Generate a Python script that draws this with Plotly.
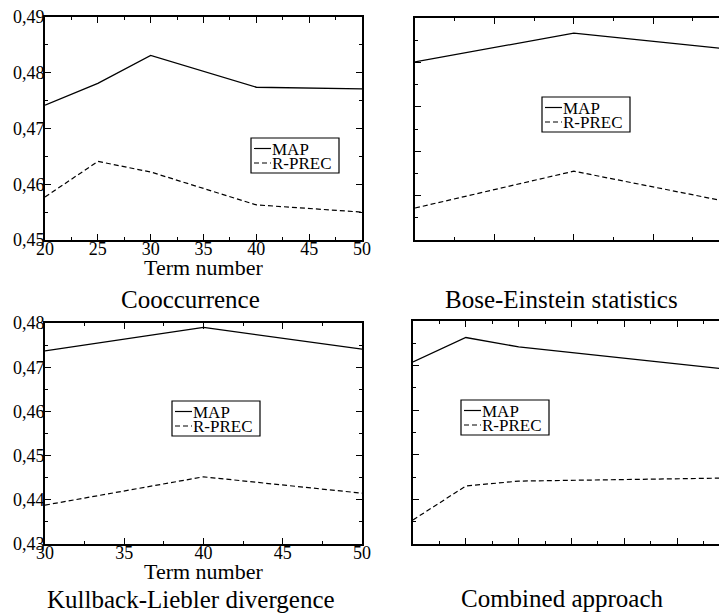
import plotly.graph_objects as go

W, H = 727, 613
OFF = 8  # the page body adds an 8px margin; positions below are in window pixels

# ---------------- data ----------------
terms_cooc = [20, 25, 30, 40, 50]
map_cooc = [0.4742, 0.4781, 0.4831, 0.4774, 0.4771]
rprec_cooc = [0.4577, 0.4641, 0.4622, 0.4563, 0.4550]

terms_be = [30, 40, 50]
map_be = [0.4801, 0.4866, 0.4829]
rprec_be = [0.4472, 0.4555, 0.4484]

terms_kl = [30, 40, 50]
map_kl = [0.4737, 0.4790, 0.4741]
rprec_kl = [0.4388, 0.4452, 0.4415]

terms_comb = [20, 25, 30, 40, 50]
map_comb = [0.4708, 0.4763, 0.4742, 0.4716, 0.4691]
rprec_comb = [0.4354, 0.4430, 0.4441, 0.4445, 0.4448]

panel_titles = ["Cooccurrence", "Bose-Einstein statistics",
                "Kullback-Liebler divergence", "Combined approach"]
series_names = ["MAP", "R-PREC"]
x_title = "Term number"

FONT = "Liberation Serif, Times New Roman, serif"

def px(x):
    return (x - OFF) / W

def py(y):
    return 1 - (y - OFF) / H

fig = go.Figure()

panels = [
    ("", terms_cooc, map_cooc, rprec_cooc, (45, 362), (17, 240), [20, 50], [0.45, 0.49], True),
    ("2", terms_be, map_be, rprec_be, (415, 732.6), (18, 240), [30, 50], [0.44, 0.49], False),
    ("3", terms_kl, map_kl, rprec_kl, (45, 362), (323, 544), [30, 50], [0.43, 0.48], True),
    ("4", terms_comb, map_comb, rprec_comb, (413, 730), (321, 544), [20, 50], [0.43, 0.48], False),
]

annots = []
for suf, xs, m, r, (xa, xb), (ya, yb), xr, yr, labels in panels:
    xref = "x" + suf
    yref = "y" + suf
    fig.add_trace(go.Scatter(x=xs, y=m, mode="lines", name=series_names[0],
                             line=dict(color="black", width=1.3),
                             xaxis=xref, yaxis=yref, showlegend=False))
    fig.add_trace(go.Scatter(x=xs, y=r, mode="lines", name=series_names[1],
                             line=dict(color="black", width=1.2, dash="5px,3px"),
                             xaxis=xref, yaxis=yref, showlegend=False))
    common = dict(showline=True, linewidth=2, linecolor="black",
                  ticks="inside", tickwidth=1, tickcolor="black",
                  showgrid=False, zeroline=False, automargin=False,
                  ticklabeloverflow="allow",
                  tickfont=dict(family=FONT, size=18, color="black"))
    xax = dict(common, domain=[px(xa), px(xb)], range=xr, dtick=5, ticklen=6,
               minor=dict(ticks="inside", dtick=2.5, ticklen=3, tickwidth=1, tickcolor="black", showgrid=False),
               mirror="allticks", anchor=yref, showticklabels=labels, ticklabelstandoff=-9)
    yax = dict(common, domain=[py(yb), py(ya)], range=yr, dtick=0.01, ticklen=6,
               minor=dict(ticks="inside", dtick=0.005, ticklen=3, tickwidth=1, tickcolor="black", showgrid=False),
               mirror="allticks", anchor=xref,
               showticklabels=labels, tickformat=".2f", ticklabelstandoff=-5)
    fig.update_layout(**{"xaxis" + suf: xax, "yaxis" + suf: yax})
    if labels:
        annots.append(dict(text=x_title, xref="paper", yref="paper",
                           x=px((xa + xb) / 2), y=py(yb + 27),
                           xanchor="center", yanchor="middle", showarrow=False,
                           font=dict(family=FONT, size=22, color="black")))

# ---------------- custom legends ----------------
legend_boxes = [(251, 138), (542, 97), (172, 401), (461, 400)]
shapes = []
for bx, by in legend_boxes:
    bw, bh = 88, 35
    shapes.append(dict(type="rect", xref="paper", yref="paper",
                       x0=px(bx), x1=px(bx + bw), y0=py(by + bh), y1=py(by),
                       line=dict(color="black", width=1.2), fillcolor="white", layer="above"))
    shapes.append(dict(type="line", xref="paper", yref="paper",
                       x0=px(bx + 3), x1=px(bx + 20), y0=py(by + 10.5), y1=py(by + 10.5),
                       line=dict(color="black", width=1.2)))
    shapes.append(dict(type="line", xref="paper", yref="paper",
                       x0=px(bx + 3), x1=px(bx + 20), y0=py(by + 25), y1=py(by + 25),
                       line=dict(color="black", width=1.2, dash="5px,3px")))
    for i, name in enumerate(series_names):
        annots.append(dict(text=name, xref="paper", yref="paper",
                           x=px(bx + 20), y=py(by + 11 + 14 * i),
                           xanchor="left", yanchor="middle", showarrow=False,
                           height=14, borderpad=0, valign="middle",
                           font=dict(family=FONT, size=17, color="black")))

title_pos = [(190, 299), (561, 299), (191, 599), (562, 598)]
for t, (tx, ty) in zip(panel_titles, title_pos):
    annots.append(dict(text=t, xref="paper", yref="paper", x=px(tx), y=py(ty),
                       xanchor="center", yanchor="middle", showarrow=False,
                       font=dict(family=FONT, size=25, color="black")))

fig.update_layout(width=W, height=H, margin=dict(l=0, r=0, t=0, b=0),
                  paper_bgcolor="white", plot_bgcolor="white",
                  separators=", ", showlegend=False,
                  shapes=shapes, annotations=annots,
                  font=dict(family=FONT, color="black"))

fig.write_html("out.html")
